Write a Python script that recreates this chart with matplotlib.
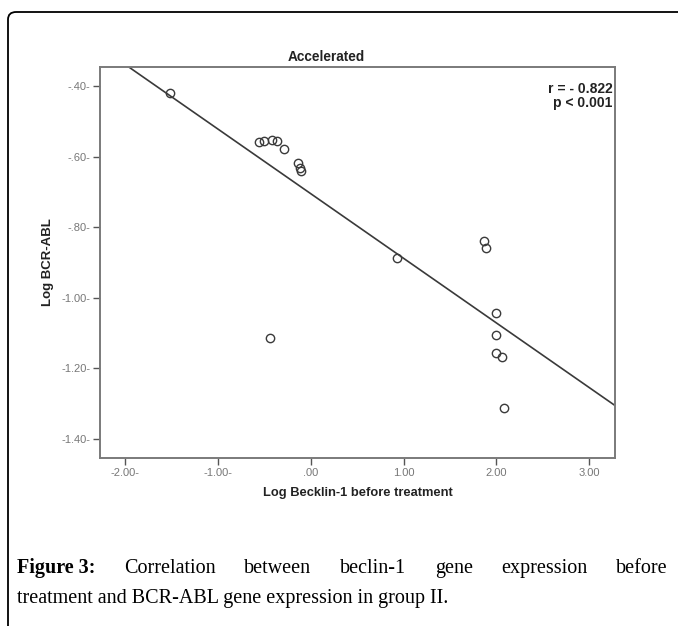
import matplotlib
matplotlib.use("Agg")
from matplotlib import pyplot as plt
from matplotlib.patches import FancyBboxPatch
import numpy as np

# data
bec = [-1.52, -0.56, -0.51, -0.42, -0.36, -0.29, -0.14, -0.12, -0.11,
       -0.44, 0.93, 1.87, 1.89, 2.00, 2.00, 2.00, 2.06, 2.08]
bcr = [-0.42, -0.558, -0.555, -0.552, -0.555, -0.579, -0.619, -0.633, -0.641,
       -1.115, -0.888, -0.838, -0.859, -1.042, -1.104, -1.156, -1.169, -1.312]
fit_intercept = -0.705
fit_slope = -0.183
xticks = [-2, -1, 0, 1, 2, 3]
xticklabels = ['-2.00-', '-1.00-', '.00', '1.00', '2.00', '3.00']
yticks = [-0.4, -0.6, -0.8, -1.0, -1.2, -1.4]
yticklabels = ['-.40-', '-.60-', '-.80-', '-1.00-', '-1.20-', '-1.40-']
stats_text = 'r = - 0.822\np < 0.001'
caption1 = ['Figure 3:', 'Correlation', 'between', 'beclin-1', 'gene', 'expression', 'before']
caption2 = 'treatment and BCR-ABL gene expression in group II.'

W, H = 678, 626
fig = plt.figure(figsize=(W / 100, H / 100), dpi=100)
sans = ['Liberation Sans', 'DejaVu Sans']
serif = ['Liberation Serif', 'DejaVu Serif']

# frame around the figure (open at right and bottom)
frame = FancyBboxPatch((8 / W, -0.2), 1.2, 1.2 - 12 / H,
                       boxstyle="round,pad=0,rounding_size=0.012",
                       transform=fig.transFigure, fill=False,
                       edgecolor='black', linewidth=1.3)
fig.patches.append(frame)

ax = fig.add_axes([100 / W, 1 - 458 / H, 515 / W, (458 - 66.7) / H])
xl = (-2.273, 3.28)
yl = (-1.454, -0.345)
ax.set_xlim(xl)
ax.set_ylim(yl)

xs = np.array(xl)
ax.plot(xs, fit_intercept + fit_slope * xs, color='#3a3a3a', linewidth=1.2)
ax.plot(bec, bcr, linestyle='none', marker='o', markersize=6,
        markerfacecolor='none', markeredgecolor='#3a3a3a', markeredgewidth=1.0)

for s in ax.spines.values():
    s.set_color('#7a7a7a')
    s.set_linewidth(1.4)

ax.set_xticks(xticks)
ax.set_xticklabels(xticklabels)
ax.set_yticks(yticks)
ax.set_yticklabels(yticklabels)
ax.tick_params(axis='both', direction='out', length=5, width=1.0,
               color='#555555', labelcolor='#777777', labelsize=8, pad=2)
for lab in ax.get_xticklabels() + ax.get_yticklabels():
    lab.set_family(sans)

ax.set_xlabel('Log Becklin-1 before treatment', fontsize=9.3, fontweight='bold',
              family=sans, color='#222222', labelpad=7)
ax.set_ylabel('Log BCR-ABL', fontsize=9.5, fontweight='bold',
              family=sans, color='#222222', labelpad=5)

fig.text(326 / W, 1 - 57 / H, 'Accelerated', ha='center', va='center',
         fontsize=9.8, fontweight='bold', family=sans, color='#222222')
ax.text(0.995, 0.962, stats_text, transform=ax.transAxes, ha='right', va='top',
        fontsize=10, fontweight='bold', family=sans, color='#222222',
        linespacing=1.05)

# caption, first line justified
fig.canvas.draw()
r = fig.canvas.get_renderer()
x0, x1 = 17, 668
y1 = 1 - 573 / H
words = []
for i, w in enumerate(caption1):
    t = fig.text(0, y1, w, fontsize=14.5, family=serif, va='baseline',
                 fontweight='bold' if i == 0 else 'normal')
    words.append(t)
widths = [t.get_window_extent(r).width for t in words]
gap = (x1 - x0 - sum(widths)) / (len(words) - 1)
x = x0
for t, wd in zip(words, widths):
    t.set_x(x / W)
    x += wd + gap
fig.text(x0 / W, 1 - 603 / H, caption2, fontsize=14.5, family=serif, va='baseline')

fig.savefig('out.png', dpi=100)
